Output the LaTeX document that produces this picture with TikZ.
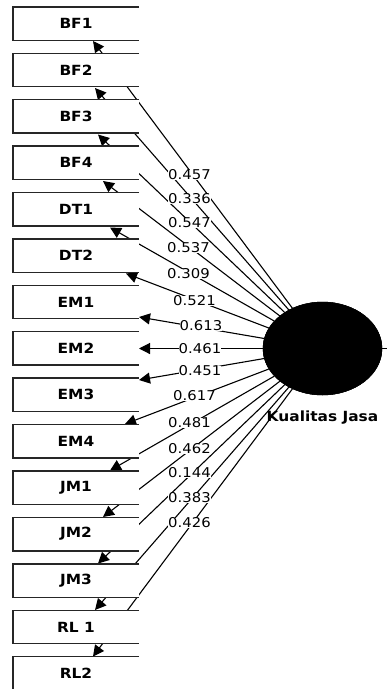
\documentclass[tikz,border=0pt]{standalone}
\usepackage{fontspec}
\setmainfont{DejaVu Sans}[FakeStretch=1.1]
\usetikzlibrary{arrows.meta,shapes.geometric}
\begin{document}
\begin{tikzpicture}[x=1pt,y=-1pt,
  box/.style={fill=white,minimum width=126pt,minimum height=33pt,inner sep=0pt,font=\bfseries\fontsize{14}{16}\selectfont},
  boxline/.style={line width=1.4pt,black!85},
  arr/.style={line width=1.1pt,-{Triangle[length=11pt,width=11pt]}},
  lab/.style={fill=white,inner sep=0.2pt,font=\fontsize{13.5}{15}\selectfont},
  lv/.style={fill=black,draw=black,ellipse,minimum width=119pt,minimum height=93pt,inner sep=0pt}]
\useasboundingbox (0,0) rectangle (387,689);
\node[lv] (K) at (322.5,348.5) {};
\coordinate (E) at (387,348.5);
% box nodes (positions)
\foreach \n [count=\i from 0] in {BF1,BF2,BF3,BF4,DT1,DT2,EM1,EM2,EM3,EM4,JM1,JM2,JM3,RL1,RL2}{
  \coordinate (c\n) at (76,23.5+46.42*\i);
}
% arrow tip coordinates
\coordinate (tBF1) at (93,41);
\coordinate (tBF2) at (95,88);
\coordinate (tBF3) at (98,134.5);
\coordinate (tBF4) at (103,181);
\coordinate (tDT1) at (110,227.5);
\coordinate (tDT2) at (126,273.5);
\coordinate (tEM1) at (139,317);
\coordinate (tEM2) at (139,348.5);
\coordinate (tEM3) at (139,380);
\coordinate (tEM4) at (125,424);
\coordinate (tJM1) at (110,470.5);
\coordinate (tJM2) at (103,517);
\coordinate (tJM3) at (98,563.5);
\coordinate (tRL1) at (95,610);
\coordinate (tRL2) at (93,656.5);
% connectors
\foreach \n in {BF1,BF2,BF3,BF4,DT1,DT2,EM1,EM2,EM3,EM4,JM1,JM2,JM3,RL1,RL2}{
  \draw[arr] (K) -- (t\n);
}
\draw[line width=1.1pt] (K) -- (E);
% boxes
\foreach \n/\t [count=\i from 0] in {BF1/BF1,BF2/BF2,BF3/BF3,BF4/BF4,DT1/DT1,DT2/DT2,EM1/EM1,EM2/EM2,EM3/EM3,EM4/EM4,JM1/JM1,JM2/JM2,JM3/JM3,RL1/RL 1,RL2/RL2}{
  \node[box] (\n) at (c\n) {\t};
  \draw[boxline] (\n.north east) -| (\n.south west) -- (\n.south east);
}
% loadings
\node[lab] (l1) at (189.5,175) {0.457};
\node[lab] (l2) at (189.5,199) {0.336};
\node[lab] (l3) at (189.5,223) {0.547};
\node[lab] (l4) at (188.5,248) {0.537};
\node[lab] (l5) at (188.5,274) {0.309};
\node[lab] (l6) at (194.5,301) {0.521};
\node[lab] (l7) at (201,326) {0.613};
\node[lab] (l8) at (200,348.5) {0.461};
\node[lab] (l9) at (200,371) {0.451};
\node[lab] (l10) at (194.5,396) {0.617};
\node[lab] (l11) at (189.5,423) {0.481};
\node[lab] (l12) at (189.5,449) {0.462};
\node[lab] (l13) at (189.5,473) {0.144};
\node[lab] (l14) at (189.5,498) {0.383};
\node[lab] (l15) at (189.5,523) {0.426};
\node[lv] at (K) {};
\node[font=\bfseries\fontsize{14}{16}\selectfont,inner sep=0pt] (KL) at (322.5,418) {Kualitas Jasa};
\end{tikzpicture}
\end{document}
